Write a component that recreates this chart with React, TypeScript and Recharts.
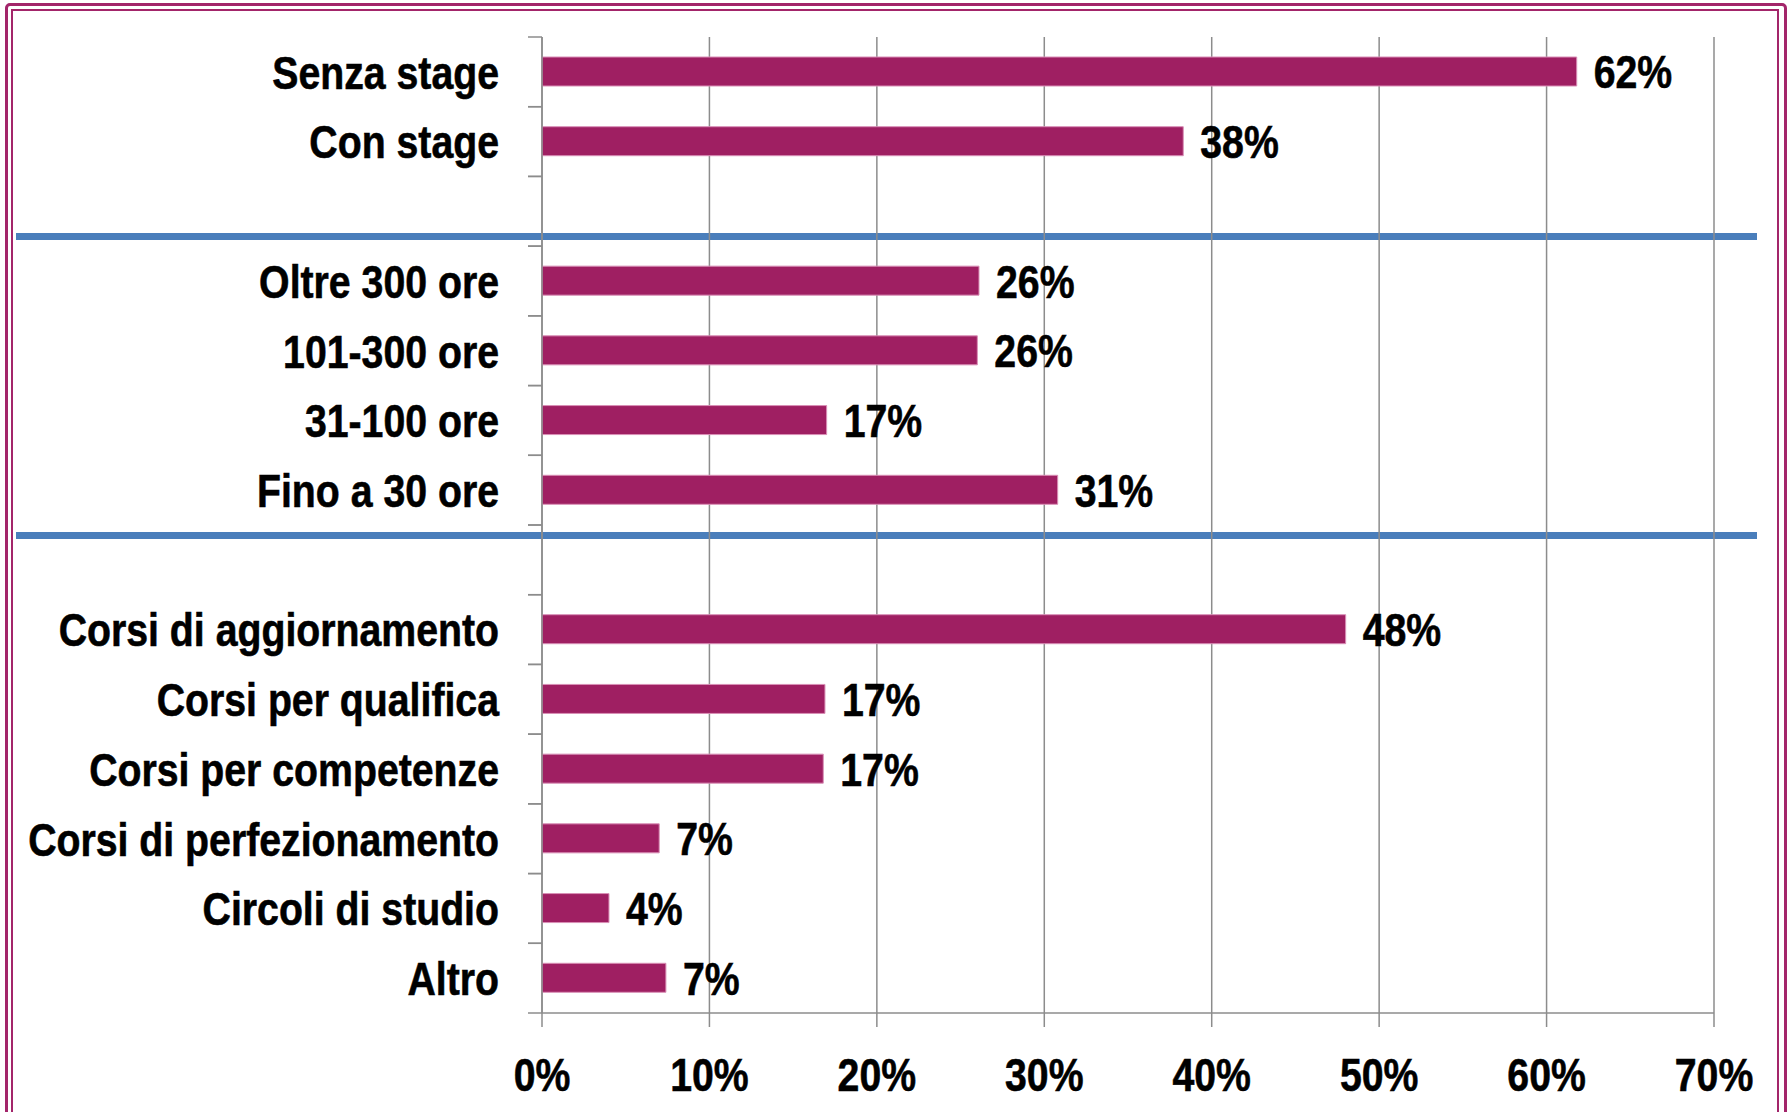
import React from "react";
import { Bar, BarChart, CartesianGrid, LabelList, XAxis, YAxis } from "recharts";

// categories top to bottom; "gap-*" are the empty rows under the blue separators
const categories = [
  "Senza stage",
  "Con stage",
  "gap-1",
  "Oltre 300 ore",
  "101-300 ore",
  "31-100 ore",
  "Fino a 30 ore",
  "gap-2",
  "Corsi di aggiornamento",
  "Corsi per qualifica",
  "Corsi per competenze",
  "Corsi di perfezionamento",
  "Circoli di studio",
  "Altro",
];
const shares = [61.8, 38.3, null, 26.1, 26.0, 17.0, 30.8, null, 48.0, 16.9, 16.8, 7.0, 4.0, 7.4];
const xTicks = [0, 10, 20, 30, 40, 50, 60, 70];

const W = 1789;
const H = 1112;
// no Arial Narrow here, so squeeze Liberation Sans Bold horizontally
const FONT = '"Liberation Sans", Arial, sans-serif';
const SQUEEZE = 0.835;
const FS = 47;
const BAR = "#9f1f62";
const GRID = "#8c8c8c";
const FRAME = "#a3256a";
const BLUE = "#4a7ebb";
const PLOT_TOP = 37;
const PLOT_BOTTOM = 1013;
const BAND = (PLOT_BOTTOM - PLOT_TOP) / categories.length;

const chartData = categories.map((name, i) => ({ name, value: shares[i] }));

const NarrowText = ({ x, y, anchor, dy, children }: any) => (
  <text
    transform={`translate(${x},${y}) scale(${SQUEEZE},1)`}
    x={0}
    y={0}
    dy={dy}
    textAnchor={anchor}
    fill="#000"
    stroke="#000"
    strokeWidth={0.6}
    fontSize={FS}
    fontWeight={700}
    fontFamily={FONT}
  >
    {children}
  </text>
);

const CategoryTick = (props: any) => {
  const { x, y, payload } = props;
  const half = payload?.offset || BAND / 2;
  const axisX = x + 14 + 29;
  const label = String(payload.value).startsWith("gap") ? "" : payload.value;
  return (
    <g>
      <line x1={axisX - 14} x2={axisX} y1={y - half} y2={y - half} stroke={GRID} strokeWidth={1.5} />
      <line x1={axisX - 14} x2={axisX} y1={y + half} y2={y + half} stroke={GRID} strokeWidth={1.5} />
      <NarrowText x={x} y={y} dy="0.36em" anchor="end">
        {label}
      </NarrowText>
    </g>
  );
};

const PercentTick = (props: any) => {
  const { x, y, payload } = props;
  return (
    <NarrowText x={x} y={y} dy="0.71em" anchor="middle">
      {`${payload.value}%`}
    </NarrowText>
  );
};

const ValueLabel = (props: any) => {
  const { x, y, width, height, value } = props;
  if (value == null) return null;
  return (
    <NarrowText x={Number(x) + Number(width) + 17} y={Number(y) + Number(height) / 2} dy="0.36em" anchor="start">
      {`${Math.round(Number(value))}%`}
    </NarrowText>
  );
};

export default function App() {
  return (
    <div
      style={{
        position: "absolute",
        left: 0,
        top: 0,
        width: W,
        height: H,
        overflow: "hidden",
        background: "#fff",
      }}
    >
      {/* double frame, open at the bottom */}
      <div
        style={{
          position: "absolute",
          left: 5,
          top: 3,
          width: 1776,
          height: 1200,
          border: `3px solid ${FRAME}`,
          borderRadius: 5,
        }}
      />
      <div
        style={{
          position: "absolute",
          left: 11,
          top: 9,
          width: 1764,
          height: 1200,
          border: `2px solid ${FRAME}`,
        }}
      />
      {/* blue separators between the groups */}
      <div style={{ position: "absolute", left: 16, top: 233, width: 1741, height: 7, background: BLUE }} />
      <div style={{ position: "absolute", left: 16, top: 532, width: 1741, height: 7, background: BLUE }} />

      <div style={{ position: "absolute", left: 0, top: 0 }}>
        <BarChart
          width={W}
          height={H}
          data={chartData}
          layout="vertical"
          margin={{ top: PLOT_TOP, right: 75, left: 42, bottom: 19 }}
          barCategoryGap={0}
        >
          <CartesianGrid horizontal={false} stroke={GRID} strokeWidth={1.5} />
          <XAxis
            type="number"
            domain={[0, 70]}
            ticks={xTicks}
            height={80}
            axisLine={{ stroke: GRID, strokeWidth: 1.5 }}
            tickLine={{ stroke: GRID, strokeWidth: 1.5 }}
            tickSize={14}
            tickMargin={31}
            tick={<PercentTick />}
            interval={0}
          />
          <YAxis
            type="category"
            dataKey="name"
            width={500}
            interval={0}
            axisLine={{ stroke: GRID, strokeWidth: 1.5 }}
            tickLine={false}
            tickSize={14}
            tickMargin={29}
            tick={<CategoryTick />}
          />
          <Bar
            dataKey="value"
            fill={BAR}
            stroke="#d98fb6"
            strokeWidth={1}
            barSize={29}
            isAnimationActive={false}
          >
            <LabelList dataKey="value" content={<ValueLabel />} />
          </Bar>
        </BarChart>
      </div>
    </div>
  );
}
